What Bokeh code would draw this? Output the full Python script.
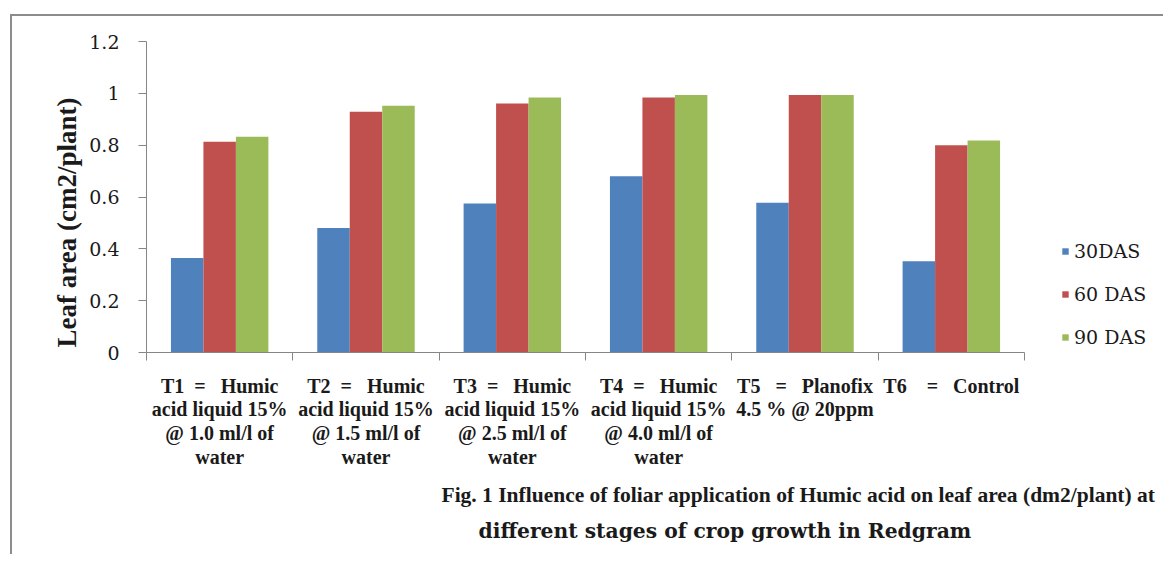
from bokeh.plotting import figure
from bokeh.models import (Range1d, FixedTicker, Legend, LegendItem, Title,
                          ColumnDataSource)
from bokeh.transform import dodge
from bokeh.embed import file_html
from bokeh.resources import INLINE

NB = "\u00a0"

categories = ["T1", "T2", "T3", "T4", "T5", "T6"]
category_labels = [
    f"T1{NB*2}={NB*3}Humic\nacid liquid 15%\n@ 1.0 ml/l of\nwater",
    f"T2{NB*2}={NB*3}Humic\nacid liquid 15%\n@ 1.5 ml/l of\nwater",
    f"T3{NB*2}={NB*3}Humic\nacid liquid 15%\n@ 2.5 ml/l of\nwater",
    f"T4{NB*2}={NB*3}Humic\nacid liquid 15%\n@ 4.0 ml/l of\nwater",
    f"T5{NB*3}={NB*3}Planofix\n4.5 % @ 20ppm",
    f"T6{NB*4}={NB*3}Control",
]
series_names = ["30DAS", "60 DAS", "90 DAS"]
das30 = [0.365, 0.480, 0.575, 0.680, 0.578, 0.352]
das60 = [0.813, 0.929, 0.961, 0.984, 0.994, 0.800]
das90 = [0.832, 0.952, 0.984, 0.994, 0.994, 0.818]
series_colors = ["#4F81BD", "#C0504D", "#9BBB59"]
y_ticks = [0, 0.2, 0.4, 0.6, 0.8, 1.0, 1.2]
y_tick_labels = ["0", "0.2", "0.4", "0.6", "0.8", "1", "1.2"]
y_axis_title = "Leaf area (cm2/plant)"
caption_lines = [
    "Fig. 1  Influence of foliar application of Humic acid on leaf area (dm2/plant)  at",
    "different stages of crop growth in Redgram",
]

W = 1153
n = len(categories)
centers = [i + 0.5 for i in range(n)]  # category slot centres on the index axis
src = ColumnDataSource(dict(cat=categories, x=centers, s30=das30, s60=das60, s90=das90))

# plot area: categories take 878 px, the frame continues to the canvas edge
# (1019 px) so that the legend can sit to the right of the bars
span = n * 1019 / 878
p = figure(x_range=Range1d(0, span), y_range=Range1d(0, 1.2),
           width=W, height=540, output_backend="svg", toolbar_location=None,
           min_border_left=134, min_border_right=0, min_border_top=25,
           min_border_bottom=204)
p.styles = {"border-left": "2px solid #8c8c8c", "border-top": "2px solid #8c8c8c",
            "margin": "14px 0 0 10px"}
p.outline_line_color = None
p.grid.visible = False
p.background_fill_color = "white"
p.border_fill_color = "white"

axis_grey = "#868686"
ink = "#1a1a1a"

# y axis
ya = p.yaxis[0]
ya.ticker = FixedTicker(ticks=y_ticks)
ya.major_label_overrides = dict(zip(y_ticks, y_tick_labels))
ya.axis_line_color = axis_grey
ya.major_tick_line_color = axis_grey
ya.major_tick_out = 8
ya.major_tick_in = 0
ya.minor_tick_line_color = None
ya.major_label_standoff = 19
ya.major_label_text_font = "DejaVu Serif"
ya.major_label_text_font_size = "19px"
ya.major_label_text_color = ink

# x axis: boundary ticks (minor) + centred multi-line labels
xa = p.xaxis[0]
xa.bounds = (0, n)
xa.ticker = FixedTicker(ticks=centers, minor_ticks=list(range(n + 1)))
xa.major_label_overrides = {c: lab for c, lab in zip(centers, category_labels)}
xa.axis_line_color = axis_grey
xa.major_tick_line_color = None
xa.major_tick_out = 0
xa.major_tick_in = 0
xa.minor_tick_line_color = axis_grey
xa.minor_tick_out = 8
xa.minor_tick_in = 0
xa.major_label_standoff = 14
xa.major_label_text_font = "Liberation Serif"
xa.major_label_text_font_style = "bold"
xa.major_label_text_font_size = "20px"
xa.major_label_text_line_height = 1.08
xa.major_label_text_color = ink

# bars
cols = ["s30", "s60", "s90"]
offsets = [-0.222, 0.0, 0.222]
renderers = []
for col, off, color in zip(cols, offsets, series_colors):
    r = p.vbar(x=dodge("x", off), top=col, width=0.222,
               source=src, fill_color=color, line_color=None)
    renderers.append(r)

legend = Legend(items=[LegendItem(label=nm, renderers=[r]) for nm, r in zip(series_names, renderers)],
                location=(915, 4), orientation="vertical",
                glyph_width=8, glyph_height=8, label_standoff=5, spacing=21,
                padding=0, margin=0, border_line_color=None, background_fill_alpha=0,
                label_text_font="DejaVu Serif", label_text_font_size="19px",
                label_height=22, label_text_color=ink)
p.add_layout(legend)

# y axis title
p.add_layout(Title(text=y_axis_title, align="left", offset=5, standoff=10,
                   text_font="Liberation Serif", text_font_style="bold",
                   text_font_size="27px", text_color=ink), "left")

# caption (two lines below the category labels)
p.add_layout(Title(text=caption_lines[0], align="left", offset=295, standoff=20,
                   text_font="Liberation Serif", text_font_style="bold",
                   text_font_size="21.5px", text_color=ink), "below")
p.add_layout(Title(text=caption_lines[1], align="left", offset=332, standoff=0,
                   text_font="DejaVu Serif", text_font_style="bold",
                   text_font_size="20.3px", text_color=ink), "below")

open("out.html", "w").write(file_html(p, INLINE))
